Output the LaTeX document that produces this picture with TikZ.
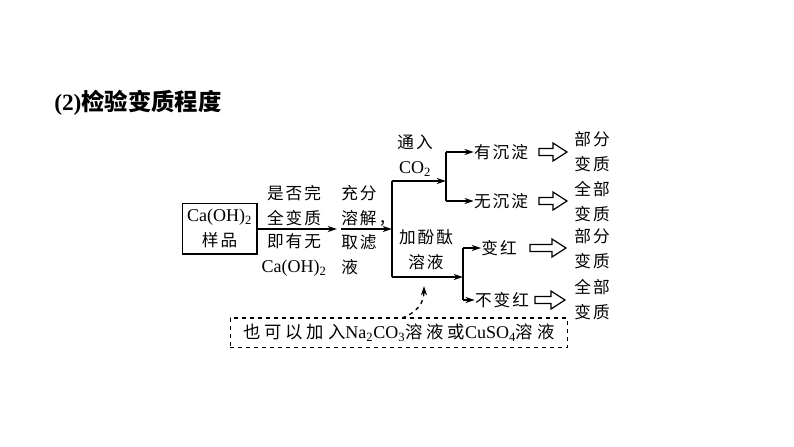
\documentclass[tikz,border=0pt]{standalone}
\usepackage{fontspec}
\setmainfont{Liberation Serif}
\newfontfamily\cjk[LetterSpace=12]{Noto Sans CJK SC}
\newfontfamily\cjkn[LetterSpace=22]{Noto Sans CJK SC}
\newfontfamily\cjkb{Noto Sans CJK SC}
\newcommand{\zh}[1]{{\cjk\fontsize{12.5}{18.75}\selectfont #1}}
\newcommand{\zhn}[1]{{\cjkn\fontsize{13}{18.75}\selectfont #1}}
\newcommand{\sub}[1]{\textsubscript{#1}}
\usetikzlibrary{arrows.meta,calc}
\begin{document}
\begin{tikzpicture}[x=0.75pt,y=-0.75pt,
  txt/.style={font=\fontsize{13.5}{18.75}\selectfont, align=center, inner sep=0pt},
  ln/.style={line width=1pt},
  arr/.style={ln,-{Stealth[length=7pt,width=4.5pt]}},
  hol/.style={line width=0.9pt, line join=miter}]
\useasboundingbox (0,0) rectangle (794,447);

\node[anchor=west, inner sep=0pt, font=\bfseries\fontsize{17.5}{17.5}\selectfont] (title) at (54,103)
  {(2){\cjkb\bfseries 检验变质程度}};

\node[draw, ln, txt, minimum width=56pt, minimum height=38pt] (sample) at (219.5,228.5)
  {Ca(OH)\sub{2}\\ \zh{样品}};

\node[txt] (q1) at (294,205.5) {\zh{是否完}\\ \zh{全变质}};
\node[txt] (q2) at (294,255) {\zh{即有无}\\ Ca(OH)\sub{2}};
\node[txt, align=left, anchor=west] (s1) at (341,205.5) {\zh{充分}\\ \zh{溶解，}};
\node[txt, align=left, anchor=west] (s2) at (341,255) {\zh{取滤}\\ \zh{液}};

\coordinate (a1end) at (337,229);
\coordinate (a2start) at (341,229);
\coordinate (vtop) at (392,181);
\coordinate (vmid) at (392,229);
\coordinate (vbot) at (392,277);
\draw[arr] (sample.east |- a1end) -- (a1end);
\draw[arr] (a2start) -- (vmid);
\draw[ln] (vtop) -- (vbot);

% upper branch
\node[txt] (co2) at (415,156) {\zh{通入}\\ CO\sub{2}};
\coordinate (b1) at (446,181);
\coordinate (b1t) at (446,152);
\coordinate (b1b) at (446,201);
\draw[arr] (vtop) -- (b1);
\draw[ln] (b1t) -- (b1b);
\node[txt] (ppt) at (501,152.5) {\zh{有沉淀}};
\node[txt] (noppt) at (501,201.5) {\zh{无沉淀}};
\draw[arr] (b1t) -- (ppt.west |- b1t);
\draw[arr] (b1b) -- (noppt.west |- b1b);
\node[txt] (r1) at (592,152) {\zh{部分}\\ \zh{变质}};
\node[txt] (r2) at (592,202) {\zh{全部}\\ \zh{变质}};
\coordinate (h1) at (539,152);
\coordinate (h2) at (539,201);

% lower branch
\node[txt] (phen) at (426,250) {\zh{加酚酞}\\ \zh{溶液}};
\coordinate (b2) at (463,277);
\coordinate (b2t) at (463,248);
\coordinate (b2b) at (463,300);
\draw[arr] (vbot) -- (b2);
\draw[ln] (b2t) -- (b2b);
\node[txt] (red) at (499,248) {\zh{变红}};
\node[txt] (nored) at (502,300) {\zh{不变红}};
\draw[arr] (b2t) -- (red.west |- b2t);
\draw[arr] (b2b) -- (nored.west |- b2b);
\node[txt] (r3) at (592,249) {\zh{部分}\\ \zh{变质}};
\node[txt] (r4) at (592,300) {\zh{全部}\\ \zh{变质}};
\coordinate (h3) at (530,248);
\coordinate (h4) at (535,300);

\foreach \h/\L in {h1/28,h2/28,h3/36,h4/30}{
  \pgfmathsetmacro{\S}{\L-14}
  \draw[hol,shift={(\h)}] (0,-3.5) -- (\S,-3.5) -- (\S,-9) -- (\L,0) -- (\S,9) -- (\S,3.5) -- (0,3.5) -- cycle;
}

% dashed note
\node[draw, ln, dashed, txt, minimum width=253pt, minimum height=22pt] (note) at (399,332.5)
  {\zhn{也可以加入}Na\sub{2}CO\sub{3}\zhn{溶液或}CuSO\sub{4}\zhn{溶液}};
\coordinate (nstart) at (402,318);
\coordinate (nend) at (424,286);
\draw[ln, dashed, -{Stealth[length=7pt,width=4.5pt]}] (nstart) .. controls (418,312) and (424,302) .. (nend);
\end{tikzpicture}
\end{document}
